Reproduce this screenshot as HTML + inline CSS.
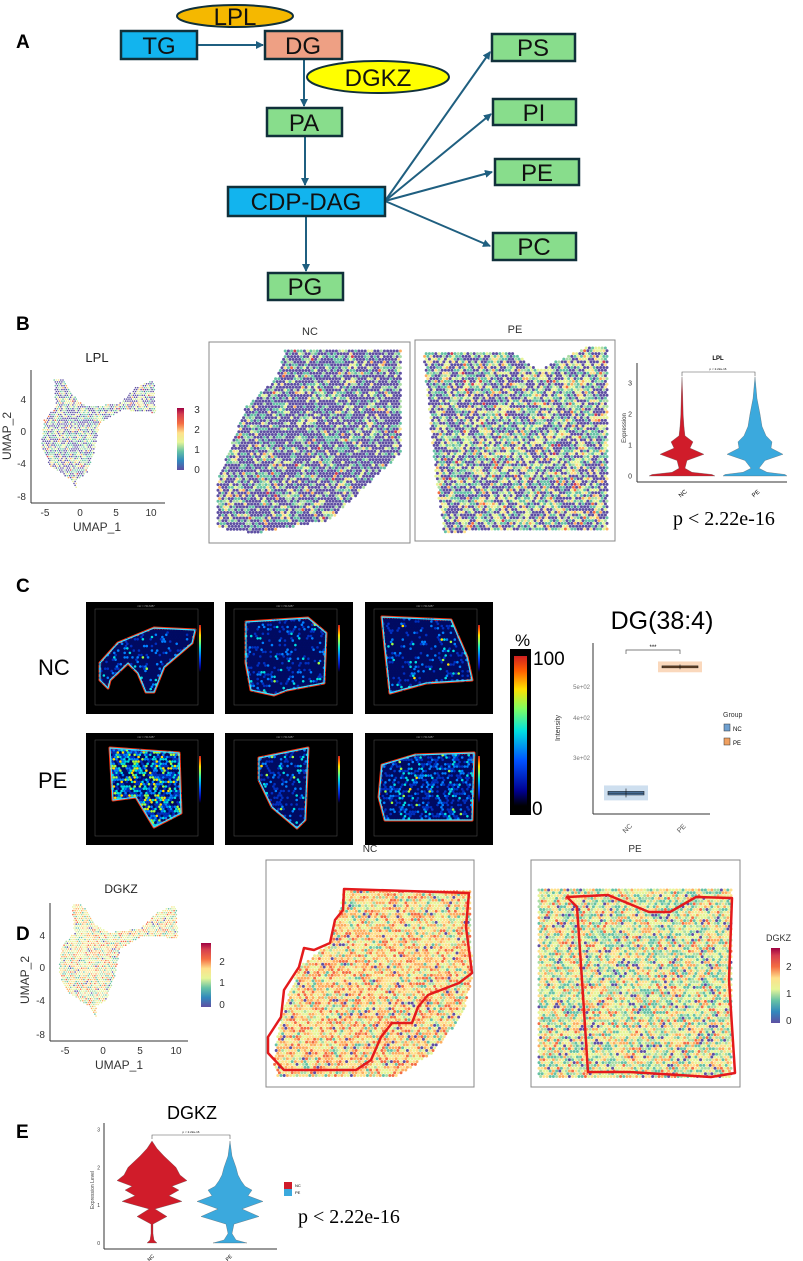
<!DOCTYPE html>
<html><head><meta charset="utf-8"><style>
html,body{margin:0;padding:0;background:#fff}
svg{display:block;font-family:"Liberation Sans",sans-serif}
.bx{stroke:#10303a;stroke-width:2.5}
.bt{font-size:24px;text-anchor:middle;fill:#111}
.ar{stroke:#1f5f80;stroke-width:2;fill:none;marker-end:url(#ah)}
.tk{font-size:10px;fill:#333}
.sm{font-size:6px;fill:#444}
</style></head><body>
<svg id="fig" width="803" height="1261" viewBox="0 0 803 1261">
<defs>
<marker id="ah" markerWidth="8" markerHeight="8" refX="7" refY="4" orient="auto" markerUnits="userSpaceOnUse"><path d="M0,0 L8,4 L0,8 z" fill="#1f5f80"/></marker>
<linearGradient id="spec" x1="0" y1="1" x2="0" y2="0"><stop offset="0" stop-color="#5e4fa2"/><stop offset=".15" stop-color="#3288bd"/><stop offset=".3" stop-color="#66c2a5"/><stop offset=".45" stop-color="#e6f598"/><stop offset=".6" stop-color="#fee08b"/><stop offset=".75" stop-color="#f46d43"/><stop offset=".9" stop-color="#d53e4f"/><stop offset="1" stop-color="#9e0142"/></linearGradient>
<linearGradient id="jet" x1="0" y1="1" x2="0" y2="0"><stop offset="0" stop-color="#000"/><stop offset=".1" stop-color="#00008f"/><stop offset=".3" stop-color="#0050ff"/><stop offset=".5" stop-color="#00e0e0"/><stop offset=".65" stop-color="#80ff60"/><stop offset=".78" stop-color="#ffe000"/><stop offset=".9" stop-color="#ff6000"/><stop offset="1" stop-color="#d02020"/></linearGradient>
</defs>

<!-- Panel A -->
<g>
<text x="16" y="48" font-size="19" font-weight="bold">A</text>
<line class="ar" x1="197" y1="45" x2="263" y2="45"/>
<line class="ar" x1="304" y1="59" x2="304" y2="106"/>
<line class="ar" x1="305" y1="136" x2="305" y2="185"/>
<line class="ar" x1="306" y1="216" x2="306" y2="271"/>
<line class="ar" x1="385" y1="201" x2="490" y2="52"/>
<line class="ar" x1="385" y1="201" x2="491" y2="114"/>
<line class="ar" x1="385" y1="201" x2="492" y2="172"/>
<line class="ar" x1="385" y1="201" x2="490" y2="246"/>
<ellipse cx="235" cy="16" rx="58" ry="11" fill="#f5b800" stroke="#10303a" stroke-width="2"/>
<text x="235" y="25" class="bt" font-size="22">LPL</text>
<rect class="bx" x="121" y="31" width="76" height="28" fill="#12b4ee"/><text class="bt" x="159" y="54">TG</text>
<rect class="bx" x="265" y="31" width="77" height="28" fill="#eea084"/><text class="bt" x="303" y="54">DG</text>
<ellipse cx="378" cy="77" rx="71" ry="16" fill="#ffff00" stroke="#10303a" stroke-width="2"/>
<text x="378" y="86" class="bt">DGKZ</text>
<rect class="bx" x="267" y="108" width="75" height="28" fill="#88dd8c"/><text class="bt" x="304" y="131">PA</text>
<rect class="bx" x="228" y="187" width="157" height="29" fill="#12b4ee"/><text class="bt" x="306" y="210">CDP-DAG</text>
<rect class="bx" x="268" y="273" width="75" height="27" fill="#88dd8c"/><text class="bt" x="305" y="295">PG</text>
<rect class="bx" x="492" y="34" width="83" height="27" fill="#88dd8c"/><text class="bt" x="533" y="56">PS</text>
<rect class="bx" x="493" y="99" width="83" height="26" fill="#88dd8c"/><text class="bt" x="534" y="121">PI</text>
<rect class="bx" x="495" y="159" width="84" height="26" fill="#88dd8c"/><text class="bt" x="537" y="181">PE</text>
<rect class="bx" x="493" y="233" width="83" height="27" fill="#88dd8c"/><text class="bt" x="534" y="255">PC</text>
</g>

<!-- Panel B -->
<text x="16" y="330" font-size="19" font-weight="bold">B</text>
<g id="umapB">
<text x="97" y="362" font-size="13" text-anchor="middle" fill="#222">LPL</text>
<line x1="31" y1="370" x2="31" y2="503" stroke="#333"/><line x1="31" y1="503" x2="165" y2="503" stroke="#333"/>
<text class="tk" x="26" y="403" text-anchor="end">4</text><text class="tk" x="26" y="435" text-anchor="end">0</text><text class="tk" x="26" y="467" text-anchor="end">-4</text><text class="tk" x="26" y="500" text-anchor="end">-8</text>
<text class="tk" x="45" y="516" text-anchor="middle">-5</text><text class="tk" x="80" y="516" text-anchor="middle">0</text><text class="tk" x="116" y="516" text-anchor="middle">5</text><text class="tk" x="151" y="516" text-anchor="middle">10</text>
<text x="97" y="531" font-size="12" text-anchor="middle" fill="#333">UMAP_1</text>
<text x="11" y="436" font-size="12" text-anchor="middle" fill="#333" transform="rotate(-90 11 436)">UMAP_2</text>
<rect x="177" y="408" width="7" height="62" fill="url(#spec)"/>
<text class="tk" x="197" y="413" text-anchor="middle">3</text><text class="tk" x="197" y="433" text-anchor="middle">2</text><text class="tk" x="197" y="453" text-anchor="middle">1</text><text class="tk" x="197" y="473" text-anchor="middle">0</text>
</g>
<text x="310" y="335" font-size="11" text-anchor="middle" fill="#333">NC</text>
<rect x="209" y="342" width="201" height="201" fill="none" stroke="#888"/>
<text x="515" y="333" font-size="11" text-anchor="middle" fill="#333">PE</text>
<rect x="415" y="340" width="200" height="201" fill="none" stroke="#888"/>
<g id="spotsB"></g>

<g id="violinB">
<text x="718" y="360" font-size="6" font-weight="bold" text-anchor="middle">LPL</text>
<line x1="637" y1="363" x2="637" y2="482" stroke="#333"/><line x1="637" y1="482" x2="787" y2="482" stroke="#333"/>
<text x="626" y="428" font-size="6" text-anchor="middle" fill="#333" transform="rotate(-90 626 428)">Expression</text>
<path d="M682,376 V372 H755 V376" fill="none" stroke="#555" stroke-width=".6"/>
<text x="718" y="370" font-size="3" text-anchor="middle">p &lt; 2.22e-16</text>
<text x="684" y="495" font-size="6" text-anchor="middle" transform="rotate(-40 684 495)">NC</text>
<text x="757" y="495" font-size="6" text-anchor="middle" transform="rotate(-40 757 495)">PE</text>
</g>
<text x="673" y="525" font-size="20" font-family="Liberation Serif,serif">p &lt; 2.22e-16</text>

<!-- Panel C -->
<text x="16" y="592" font-size="19" font-weight="bold">C</text>
<text x="38" y="675" font-size="22">NC</text>
<text x="38" y="788" font-size="22">PE</text>
<g id="msi"></g>
<g>
<text x="515" y="646" font-size="17">%</text>
<rect x="510" y="649" width="21" height="166" fill="#000"/>
<rect x="514" y="656" width="13" height="150" fill="url(#jet)"/>
<text x="533" y="665" font-size="19">100</text>
<text x="532" y="815" font-size="19">0</text>
</g>
<g id="boxC">
<text x="662" y="629" font-size="25" text-anchor="middle">DG(38:4)</text>
<line x1="593" y1="643" x2="593" y2="814" stroke="#333"/><line x1="593" y1="814" x2="710" y2="814" stroke="#333"/>
<text x="560" y="728" font-size="7" text-anchor="middle" fill="#333" transform="rotate(-90 560 728)">Intensity</text>
<path d="M626,654 V650 H680 V654" fill="none" stroke="#555" stroke-width=".7"/>
<text x="653" y="649" font-size="6" text-anchor="middle">***</text>
<text x="629" y="830" font-size="7" fill="#555" text-anchor="middle" transform="rotate(-45 629 830)">NC</text>
<text x="683" y="830" font-size="7" fill="#555" text-anchor="middle" transform="rotate(-45 683 830)">PE</text>
<text x="723" y="717" font-size="7" fill="#333">Group</text>
<rect x="724" y="724" width="6" height="7" fill="#6fa0d0" stroke="#333" stroke-width=".5"/><text x="733" y="731" font-size="6">NC</text>
<rect x="724" y="738" width="6" height="7" fill="#f0a060" stroke="#333" stroke-width=".5"/><text x="733" y="745" font-size="6">PE</text>
</g>

<!-- Panel D -->
<text x="16" y="940" font-size="19" font-weight="bold">D</text>
<g id="umapD">
<text x="121" y="893" font-size="12" text-anchor="middle" fill="#222">DGKZ</text>
<line x1="50" y1="903" x2="50" y2="1041" stroke="#333"/><line x1="50" y1="1041" x2="188" y2="1041" stroke="#333"/>
<text class="tk" x="45" y="939" text-anchor="end">4</text><text class="tk" x="45" y="971" text-anchor="end">0</text><text class="tk" x="45" y="1004" text-anchor="end">-4</text><text class="tk" x="45" y="1038" text-anchor="end">-8</text>
<text class="tk" x="65" y="1054" text-anchor="middle">-5</text><text class="tk" x="103" y="1054" text-anchor="middle">0</text><text class="tk" x="140" y="1054" text-anchor="middle">5</text><text class="tk" x="176" y="1054" text-anchor="middle">10</text>
<text x="119" y="1069" font-size="12" text-anchor="middle" fill="#333">UMAP_1</text>
<text x="29" y="980" font-size="12" text-anchor="middle" fill="#333" transform="rotate(-90 29 980)">UMAP_2</text>
<rect x="201" y="943" width="10" height="64" fill="url(#spec)"/>
<text class="tk" x="222" y="965" text-anchor="middle">2</text><text class="tk" x="222" y="986" text-anchor="middle">1</text><text class="tk" x="222" y="1008" text-anchor="middle">0</text>
</g>
<text x="370" y="852" font-size="10" text-anchor="middle" fill="#333">NC</text>
<rect x="266" y="860" width="208" height="227" fill="none" stroke="#888"/>
<text x="635" y="852" font-size="10" text-anchor="middle" fill="#333">PE</text>
<rect x="531" y="860" width="209" height="227" fill="none" stroke="#888"/>
<g id="spotsD"></g>
<polygon points="344,889 469,893 466,927 472,973 459,983 428,995 418,1007 412,1023 392,1023 381,1037 371,1060 356,1070 284,1070 268,1053 268,1037 281,1017 284,990 299,967 304,948 314,950 330,943 335,920 343,910" fill="none" stroke="#e41a1c" stroke-width="2.5" stroke-linejoin="round"/>
<polygon points="567,897 608,895 649,912 670,912 696,897 732,898 729,980 735,1073 711,1077 629,1072 588,1072 582,980 577,907" fill="none" stroke="#e41a1c" stroke-width="2.5" stroke-linejoin="round"/>
<g>
<text x="766" y="941" font-size="9" fill="#333">DGKZ</text>
<rect x="771" y="948" width="9" height="75" fill="url(#spec)"/>
<text class="tk" x="786" y="970">2</text><text class="tk" x="786" y="997">1</text><text class="tk" x="786" y="1024">0</text>
</g>

<!-- Panel E -->
<text x="16" y="1138" font-size="19" font-weight="bold">E</text>
<g id="violinE">
<text x="192" y="1119" font-size="18" text-anchor="middle">DGKZ</text>
<line x1="104" y1="1123" x2="104" y2="1249" stroke="#333"/><line x1="104" y1="1249" x2="277" y2="1249" stroke="#333"/>
<text x="94" y="1190" font-size="5" text-anchor="middle" fill="#444" transform="rotate(-90 94 1190)">Expression Level</text>
<path d="M152,1139 V1135 H230 V1139" fill="none" stroke="#555" stroke-width=".6"/>
<text x="191" y="1133" font-size="3" text-anchor="middle">p &lt; 2.22e-16</text>
<text x="152" y="1259" font-size="5" text-anchor="middle" transform="rotate(-45 152 1259)">NC</text>
<text x="230" y="1259" font-size="5" text-anchor="middle" transform="rotate(-45 230 1259)">PE</text>
<rect x="284" y="1182" width="8" height="7" fill="#d01c2a"/><text x="295" y="1187" font-size="4">NC</text>
<rect x="284" y="1189" width="8" height="7" fill="#3ba9dd"/><text x="295" y="1194" font-size="4">PE</text>
</g>
<text x="298" y="1223" font-size="20" font-family="Liberation Serif,serif">p &lt; 2.22e-16</text>
</svg>

<script>
// ---- Chart data ----
const violinCategories = ["NC", "PE"];
// LPL violin (panel B): expression levels and density (half-width in px) at each level
const lplLevels = [0, 0.05, 0.12, 0.25, 0.5, 0.7, 0.9, 1.1, 1.3, 1.6, 2.0, 2.5, 3.0, 3.2];
const lplNC = [33, 30, 10, 3, 5, 22, 8, 11, 3, 2, 1.2, 0.8, 0.3, 0];
const lplPE = [32, 30, 12, 4, 10, 28, 16, 17, 11, 7, 5, 2, 0.6, 0];
const lplTicks = [0, 1, 2, 3];
// DGKZ violin (panel E)
const dgkzLevels = [0, 0.08, 0.25, 0.5, 0.7, 0.9, 1.1, 1.25, 1.4, 1.5, 1.65, 1.8, 2.0, 2.3, 2.5, 2.7];
const dgkzNC = [5, 2, 1, 1, 15, 3, 30, 17, 27, 20, 35, 28, 24, 12, 5, 0];
const dgkzPE = [17, 6, 2, 4, 29, 12, 33, 18, 22, 15, 11, 8, 6, 2, 1, 0];
const dgkzTicks = [0, 1, 2, 3];
// DG(38:4) intensity boxplot (log axis): [lowerWhisker, q1, median, q3, upperWhisker]
const dgGroups = ["NC", "PE"];
const dgNC = [226, 230, 233, 236, 241];
const dgPE = [568, 574, 578, 582, 588];
const dgTicks = [300, 400, 500];
const dgTickLabels = ["3e+02", "4e+02", "5e+02"];

const NS = "http://www.w3.org/2000/svg";
function mk(tag, attrs, parent) { const e = document.createElementNS(NS, tag); for (const k in attrs) e.setAttribute(k, attrs[k]); parent.appendChild(e); return e; }

function violin(g, levels, dens, cx, yScale, fill) {
  let right = [], left = [];
  for (let i = 0; i < levels.length; i++) { const y = yScale(levels[i]); right.push((cx + dens[i]) + "," + y); left.unshift((cx - dens[i]) + "," + y); }
  const p = mk("polygon", { points: right.concat(left).join(" "), fill: fill, stroke: "#555", "stroke-width": 0.3 }, g);
  
  
}
const gB = document.getElementById("violinB");
const yB = v => 476 - v * 31;
lplTicks.forEach(t => { const tx = mk("text", { x: 632, y: yB(t) + 2.5, "font-size": 7, "text-anchor": "end", fill: "#333" }, gB); tx.textContent = t; });
const xB = c => 682 + violinCategories.indexOf(c) * 73;
violin(gB, lplLevels, lplNC, xB("NC"), yB, "#d01c2a");
violin(gB, lplLevels, lplPE, xB("PE"), yB, "#3ba9dd");
const gE = document.getElementById("violinE");
const yE = v => 1243 - v * 37.8;
dgkzTicks.forEach(t => { const tx = mk("text", { x: 100, y: yE(t) + 2, "font-size": 5, "text-anchor": "end", fill: "#333" }, gE); tx.textContent = t; });
const xE = c => 152 + violinCategories.indexOf(c) * 78;
violin(gE, dgkzLevels, dgkzNC, xE("NC"), yE, "#d01c2a");
violin(gE, dgkzLevels, dgkzPE, xE("PE"), yE, "#3ba9dd");
const gC = document.getElementById("boxC");
const yC = v => 687 - (Math.log(v) - Math.log(500)) * 139;
const xC = c => 626 + dgGroups.indexOf(c) * 54;
dgTicks.forEach((t, i) => { const tx = mk("text", { x: 590, y: yC(t) + 2, "font-size": 6, "text-anchor": "end", fill: "#777" }, gC); tx.textContent = dgTickLabels[i]; });
function boxp(stats, cx, col, dots) {
  const cl = mk("rect", { x: cx - 22, y: yC(stats[4]) - 3, width: 44, height: yC(stats[0]) - yC(stats[4]) + 6, fill: dots, opacity: 0.5 }, gC);
  
  
  const b = mk("rect", { x: cx - 18, y: yC(stats[3]), width: 36, height: Math.max(1, yC(stats[1]) - yC(stats[3])), fill: col, stroke: "#222", "stroke-width": 0.6 }, gC);
  
  
  mk("line", { x1: cx - 18, x2: cx + 18, y1: yC(stats[2]), y2: yC(stats[2]), stroke: "#111", "stroke-width": 0.8 }, gC);
  mk("line", { x1: cx, x2: cx, y1: yC(stats[4]), y2: yC(stats[0]), stroke: "#111", "stroke-width": 0.6 }, gC);
}
boxp(dgNC, xC("NC"), "#5b8ec4", "#9ebfe0");
boxp(dgPE, xC("PE"), "#e8883a", "#f6b27a");

// ---- Decorative textures (spots) ----
let seed = 12345;
function rnd() { seed = (seed * 1103515245 + 12345) % 2147483648; return seed / 2147483648; }
function inPoly(x, y, pts) { let c = false; for (let i = 0, j = pts.length - 1; i < pts.length; j = i++) { const [xi, yi] = pts[i], [xj, yj] = pts[j]; if (((yi > y) != (yj > y)) && (x < (xj - xi) * (y - yi) / (yj - yi) + xi)) c = !c; } return c; }
function pick(cols, w) { let r = rnd(), s = 0; for (let i = 0; i < cols.length; i++) { s += w[i]; if (r < s) return cols[i]; } return cols[cols.length - 1]; }
function spots(g, pts, cols, w, sp, r) {
  let xs = pts.map(p => p[0]), ys = pts.map(p => p[1]);
  let x0 = Math.min(...xs), x1 = Math.max(...xs), y0 = Math.min(...ys), y1 = Math.max(...ys);
  let row = 0, html = "";
  for (let y = y0; y <= y1; y += sp * 0.87, row++) for (let x = x0 + (row % 2) * sp / 2; x <= x1; x += sp) {
    if (inPoly(x, y, pts)) html += `<circle cx="${x.toFixed(1)}" cy="${y.toFixed(1)}" r="${r}" fill="${pick(cols, w)}"/>`;
  }
  const sub = mk("g", {}, g); sub.innerHTML = html; return sub;
}
const SP = ["#5e4fa2", "#66c2a5", "#abdda4", "#e6f598", "#fee08b", "#fdae61", "#f46d43", "#d53e4f"];
const gBs = document.getElementById("spotsB");
spots(gBs, [[285,351],[401,351],[401,453],[330,520],[256,533],[218,528],[218,480],[246,407],[277,377]], SP, [.6,.18,.09,.07,.03,.02,.005,.005], 3.2, 1.5);
spots(gBs, [[423,351],[513,352],[538,370],[585,348],[608,348],[608,530],[444,532],[436,480]], SP, [.38,.22,.1,.18,.07,.03,.015,.005], 3.2, 1.5);
const gDs = document.getElementById("spotsD");
const SD = ["#5e4fa2", "#66c2a5", "#abdda4", "#e6f598", "#fee08b", "#fdae61", "#f46d43"];
spots(gDs, [[344,889],[470,891],[472,977],[464,1013],[433,1053],[397,1077],[278,1077],[273,1063],[281,1017],[299,967],[330,943],[340,910]], SD, [.03,.06,.08,.2,.25,.25,.13], 3.2, 1.5);
spots(gDs, [[539,890],[732,890],[732,1078],[539,1078]], SD, [.05,.18,.17,.25,.18,.12,.05], 3.2, 1.5);
const UB = [[54,380],[64,380],[77,400],[90,407],[120,403],[136,387],[154,380],[156,413],[123,410],[100,423],[95,450],[87,473],[77,480],[77,492],[72,480],[51,467],[41,447],[44,420],[56,407]];
spots(document.getElementById("umapB"), UB, SP, [.4,.2,.12,.15,.07,.04,.01,.01], 2.2, 0.8);
const UD = UB.map(p => [p[0] * 1.04 + 16, (p[1] - 380) * 1.02 + 905]);
spots(document.getElementById("umapD"), UD, SD, [.04,.1,.15,.25,.2,.18,.08], 2.2, 0.8);

const gM = document.getElementById("msi");
const frames = [[86,602],[225,602],[365,602],[86,733],[225,733],[365,733]];
const tissues = [
 [[154,628],[195,630],[192,643],[164,667],[154,692],[146,692],[138,673],[128,663],[110,680],[108,688],[100,680],[100,663],[118,643]],
 [[246,622],[308,618],[326,633],[324,683],[287,690],[274,695],[251,690],[246,663]],
 [[382,617],[451,620],[467,657],[472,680],[426,683],[390,693],[385,647]],
 [[110,748],[179,753],[181,813],[154,827],[136,797],[113,800]],
 [[259,758],[308,748],[305,820],[297,828],[272,807],[259,780]],
 [[382,765],[415,755],[474,753],[472,820],[385,820],[379,797]]];
const JC = ["#000a60", "#0030c0", "#0080ff", "#00e0e0", "#a0ff40", "#ffe000"];
const JW = [[.82,.1,.05,.02,.007,.003],[.75,.14,.07,.03,.008,.002],[.8,.12,.05,.02,.007,.003],[.25,.22,.2,.17,.1,.06],[.72,.15,.08,.04,.008,.002],[.55,.25,.12,.06,.015,.005]];
frames.forEach((f, i) => {
  const g = mk("g", {}, gM);
  
  
  mk("rect", { x: f[0], y: f[1], width: 128, height: 112, fill: "#000" }, g);
  mk("rect", { x: f[0] + 9, y: f[1] + 7, width: 103, height: 96, fill: "none", stroke: "#555", "stroke-width": 0.5 }, g);
  const t = mk("text", { x: f[0] + 60, y: f[1] + 5, "font-size": 2.5, fill: "#aaa", "text-anchor": "middle" }, g); t.textContent = "m/z = 744.6457";
  mk("rect", { x: f[0] + 113, y: f[1] + 23, width: 2, height: 47, fill: "url(#jet)" }, g);
  const pts = tissues[i];
  mk("polygon", { points: pts.map(p => p.join(",")).join(" "), fill: "#001070", stroke: "#ff3010", "stroke-width": 3, "stroke-linejoin": "round" }, g);
  spots(g, pts, JC, JW[i], 2.6, 1.3);
  mk("polygon", { points: pts.map(p => p.join(",")).join(" "), fill: "none", stroke: "#40e0ff", "stroke-width": 1.2, "stroke-linejoin": "round" }, g);
});
</script>
</body></html>
